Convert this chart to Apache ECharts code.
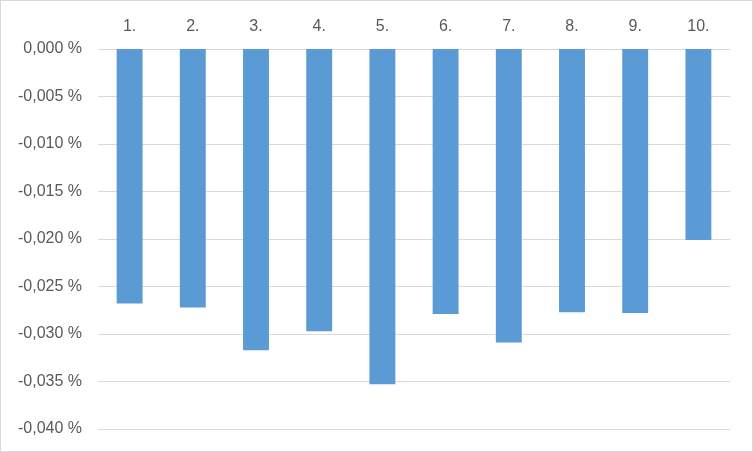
<!DOCTYPE html>
<html><head><meta charset="utf-8">
<script src="https://cdn.jsdelivr.net/npm/echarts@6/dist/echarts.min.js"></script>
<style>html,body{margin:0;padding:0;background:#fff}#c{width:753px;height:452px;box-sizing:border-box;border:1px solid #d9d9d9}</style>
</head><body><div id="c"></div>
<script>
const categories = ['1.', '2.', '3.', '4.', '5.', '6.', '7.', '8.', '9.', '10.'];
const values = [-0.0268, -0.0272, -0.0317, -0.0297, -0.0353, -0.0279, -0.0309, -0.0277, -0.0278, -0.0201];
const yMin = -0.040, yMax = 0, yStep = 0.005;

const chart = echarts.init(document.getElementById('c'));
chart.setOption({
  animation: false,
  grid: { left: 97, right: 22, top: 48, bottom: 22 },
  xAxis: {
    type: 'category', data: categories, position: 'top',
    axisLine: { show: false }, axisTick: { show: false },
    axisLabel: { color: '#595959', fontFamily: 'Liberation Sans', fontSize: 16, margin: 14 }
  },
  yAxis: {
    type: 'value', min: yMin, max: yMax, interval: yStep,
    axisLine: { show: false }, axisTick: { show: false },
    splitLine: { lineStyle: { color: '#d9d9d9', width: 1 } },
    axisLabel: {
      color: '#595959', fontFamily: 'Liberation Sans', fontSize: 16, margin: 16,
      formatter: v => v.toFixed(3).replace('.', ',') + ' %'
    }
  },
  series: [{
    type: 'bar', data: values, barWidth: '41%',
    itemStyle: { color: '#5B9BD5' }
  }]
});
</script></body></html>
